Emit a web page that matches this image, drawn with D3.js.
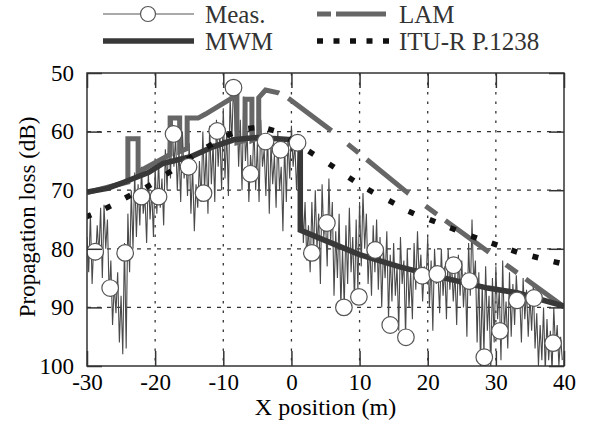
<!DOCTYPE html>
<html>
<head>
<meta charset="utf-8">
<script src="https://cdn.jsdelivr.net/npm/d3@7"></script>
<style>
    body { margin: 0; background: #fff; }
    #chart { width: 594px; height: 423px; }
    text { font-family: "Liberation Serif", "Times New Roman", serif; }
</style>
</head>
<body>
<div id="chart"></div>
<script>
/* DATA */
const xTicks = [-30, -20, -10, 0, 10, 20, 30, 40];
const yTicks = [50, 60, 70, 80, 90, 100];

// measured trace, one value every 0.25 m from -30 m
const traceStart = -30;
const traceStep = 0.25;
const traceY = [
    78, 84, 74, 86, 79, 82, 76, 81, 73, 85,
    72.5, 80, 75, 88, 82, 93, 86, 91, 84, 96,
    88, 98, 79, 97, 74, 84, 70, 80, 67, 78,
    69, 76, 66, 74, 71, 79, 67, 75, 70, 78,
    66, 74, 65, 73, 68, 76, 63, 70, 60, 68,
    58, 66, 61, 70, 63, 72, 60, 68, 64, 71,
    62, 74, 66, 77, 69, 73, 65, 72, 60, 70,
    63, 74, 59, 69, 62, 72, 58, 66, 60, 70,
    56, 68, 60, 71, 54, 62, 51.5, 60, 55, 66,
    58, 70, 54, 65, 60, 72, 64, 68, 59, 70,
    62, 72, 58, 66, 63, 71, 60, 74, 62, 69,
    64, 73, 60, 70, 66, 77, 62, 72, 61, 68,
    59, 66, 62, 70, 63, 74, 68, 79, 72, 82,
    76, 84, 72, 81, 70, 80, 74, 86, 69, 78,
    75, 83, 68, 79, 72, 88, 77, 85, 74, 90,
    80, 90, 76, 86, 73, 84, 78, 89, 75, 87,
    72, 83, 70.5, 80, 74, 86, 79, 88, 76, 84,
    75, 87, 78, 90, 80, 85, 77, 92, 81, 89,
    79, 88, 83, 94, 78, 86, 82, 95, 80, 90,
    84, 92, 79, 87, 77, 85, 81, 89, 83, 86,
    78, 90, 82, 94, 80, 86, 84, 91, 80, 88,
    83, 92, 80, 87, 82, 89, 84, 93, 81, 88,
    82, 90, 84, 95, 79, 88, 75, 86, 82, 96,
    84, 100, 86, 98, 83, 94, 88, 101, 85, 96,
    83, 92, 87, 99, 82, 94, 89, 97, 84, 95,
    86, 93, 84.5, 90, 88, 96, 85, 92, 87, 95,
    88, 94, 86, 97, 91, 100, 93, 99, 90, 101,
    92, 99, 94, 101, 90, 97, 93, 100, 95, 99
];

// circle markers on the measured trace
const measX = [-28.8, -26.6, -24.4, -22.0, -19.5, -17.3, -15.1, -12.9, -10.9, -8.5,
               -6.0, -3.8, -1.6, 0.9, 3.0, 5.2, 7.7, 9.9, 12.3, 14.5,
               16.8, 19.2, 21.4, 23.8, 26.1, 28.3, 30.6, 33.1, 35.6, 38.4];
const measY = [80.5, 86.7, 80.7, 71.1, 71.1, 60.4, 66.0, 70.5, 59.9, 52.5,
               67.2, 61.7, 63.1, 61.9, 80.7, 75.6, 90.0, 88.2, 80.2, 93.0,
               95.1, 84.6, 84.3, 82.8, 85.5, 98.5, 94.0, 88.8, 88.4, 96.1];

// LAM
const lamX = [-30, -24, -24, -22.5, -22.5, -17.8, -17.8, -16.4, -16.4, -15.3, -15.3, -13.7, -12.6, -8.5,
              -8, -8, -6.8, -6.8, -5.8, -5.8, -4.8, -4.8, -3.8, -1.9, -0.6, 5.7, 17.1, 29.1, 40];
const lamY = [70.4, 68.6, 61.2, 61.2, 66.9, 63.9, 57.7, 57.7, 63.4, 62.9, 57.7, 57.7, 57, 54.1,
              54, 61.9, 61.5, 54.5, 54.5, 61.5, 61, 54.2, 52.9, 53.4, 54.2, 59.7, 70.5, 80.7, 89.9];
const lamPeakIndex = 22;

// MWM
const mwmX = [-30, -27, -24.5, -21, -18.8, -14.8, -11.5, -8.5, -5, -2, 1.3, 1.3, 5, 10, 15.9, 22.5, 28.8, 33.1, 40];
const mwmY = [70.3, 69.7, 68.6, 67.0, 65.4, 64.3, 62.6, 61.4, 61.0, 61.2, 61.5, 76.8, 78.6, 81.0, 83.1, 85.0, 86.7, 87.5, 89.8];

// ITU-R P.1238
const ituX = [-29.8, -26.9, -24.0, -21.0, -18.0, -14.9, -12.0, -9.1, -5.9, -3.0, 0.0, 2.9,
              5.9, 8.8, 11.6, 14.7, 17.6, 20.7, 23.7, 26.8, 29.8, 32.7, 35.8, 38.9];
const ituY = [74.4, 72.9, 71.1, 69.3, 67.0, 64.5, 62.4, 60.5, 59.4, 59.7, 61.4, 63.6,
              65.8, 68.1, 70.1, 72.0, 73.8, 75.2, 76.6, 78.0, 79.2, 80.4, 81.4, 82.3];

/* SVG */
const width = 594;
const height = 423;
const margin = {top: 73, left: 87, right: 30, bottom: 57};

const svg = d3.select("#chart")
    .append("svg")
    .attr("width", width)
    .attr("height", height);

/* SCALES */
const xScale = d3.scaleLinear()
    .domain([-30, 40])
    .range([margin.left, width - margin.right]);

const yScale = d3.scaleLinear()
    .domain([50, 100])
    .range([margin.top, height - margin.bottom]);

const x0 = xScale(-30), x1 = xScale(40), y0 = yScale(50), y1 = yScale(100);

/* GRID */
svg.append("g").selectAll("line")
    .data(xTicks.slice(1, -1))
    .enter()
    .append("line")
    .attr("x1", d => xScale(d)).attr("x2", d => xScale(d))
    .attr("y1", y0).attr("y2", y1)
    .attr("stroke", "#333").attr("stroke-width", 1.3)
    .attr("stroke-dasharray", "2.5,7");

svg.append("g").selectAll("line")
    .data(yTicks.slice(1, -1))
    .enter()
    .append("line")
    .attr("x1", x0).attr("x2", x1)
    .attr("y1", d => yScale(d)).attr("y2", d => yScale(d))
    .attr("stroke", "#333").attr("stroke-width", 1.3)
    .attr("stroke-dasharray", "4,6");

/* CLIP */
svg.append("clipPath").attr("id", "plot")
    .append("rect")
    .attr("x", x0).attr("y", y0)
    .attr("width", x1 - x0).attr("height", y1 - y0);

const plot = svg.append("g").attr("clip-path", "url(#plot)");

/* MEASURED TRACE */
const trace = traceY.map((v, i) => ({x: traceStart + i * traceStep, y: v}));
const line = d3.line().x(d => xScale(d.x)).y(d => yScale(d.y));

plot.append("path")
    .datum(trace)
    .attr("d", line)
    .attr("fill", "none")
    .attr("stroke", "#4a4a4a")
    .attr("stroke-width", 1.1);

/* LAM */
const lamData = lamX.map((v, i) => ({x: v, y: lamY[i]}));
const lamPath = plot.append("path")
    .datum(lamData)
    .attr("d", line)
    .attr("fill", "none")
    .attr("stroke", "#666")
    .attr("stroke-width", 5);

// solid up to the peak, dashed (short / long) after it
const tmp = svg.append("path").attr("d", line(lamData.slice(0, lamPeakIndex + 1)));
const peakLen = tmp.node().getTotalLength();
tmp.remove();
const totalLen = lamPath.node().getTotalLength();
const dashes = [peakLen + 14, 10.5, 54, 21];
let covered = peakLen + 99.5;
while (covered < totalLen + 100) {
    dashes.push(14, 10.5, 54, 21);
    covered += 99.5;
}
lamPath.attr("stroke-dasharray", dashes.join(","));

/* MWM */
plot.append("path")
    .datum(mwmX.map((v, i) => ({x: v, y: mwmY[i]})))
    .attr("d", line)
    .attr("fill", "none")
    .attr("stroke", "#383838")
    .attr("stroke-width", 5.5)
    .attr("stroke-linejoin", "miter");

/* ITU-R P.1238 */
const itu = ituX.map((v, i) => {
    const a = i > 0 ? i - 1 : i;
    const b = i < ituX.length - 1 ? i + 1 : i;
    const ang = Math.atan2(yScale(ituY[b]) - yScale(ituY[a]), xScale(ituX[b]) - xScale(ituX[a]));
    return {x: v, y: ituY[i], ang: ang};
});

plot.append("g").selectAll("line")
    .data(itu)
    .enter()
    .append("line")
    .attr("x1", d => xScale(d.x) - 3 * Math.cos(d.ang))
    .attr("y1", d => yScale(d.y) - 3 * Math.sin(d.ang))
    .attr("x2", d => xScale(d.x) + 3 * Math.cos(d.ang))
    .attr("y2", d => yScale(d.y) + 3 * Math.sin(d.ang))
    .attr("stroke", "#111")
    .attr("stroke-width", 5.5);

/* MARKERS */
plot.append("g").selectAll("circle")
    .data(measX.map((v, i) => ({x: v, y: measY[i]})))
    .enter()
    .append("circle")
    .attr("cx", d => xScale(d.x))
    .attr("cy", d => yScale(d.y))
    .attr("r", 8.3)
    .attr("fill", "#fff")
    .attr("stroke", "#555")
    .attr("stroke-width", 1.2);

/* AXES */
const tickLen = 15;
const xAxis = svg.append("g")
    .attr("transform", `translate(0,${y1})`)
    .call(d3.axisBottom(xScale).tickValues(xTicks).tickSize(-tickLen).tickPadding(8)
        .tickFormat(d => String(d)));

const xAxisTop = svg.append("g")
    .attr("transform", `translate(0,${y0})`)
    .call(d3.axisTop(xScale).tickValues(xTicks).tickSize(-tickLen).tickFormat(""));

const yAxis = svg.append("g")
    .attr("transform", `translate(${x0},0)`)
    .call(d3.axisLeft(yScale).tickValues(yTicks).tickSize(-tickLen).tickPadding(13)
        .tickFormat(d => String(d)));

const yAxisRight = svg.append("g")
    .attr("transform", `translate(${x1},0)`)
    .call(d3.axisRight(yScale).tickValues(yTicks).tickSize(-tickLen).tickFormat(""));

svg.selectAll(".domain").remove();
svg.selectAll(".tick line").attr("stroke", "#333").attr("stroke-width", 1.5);
svg.selectAll(".tick text")
    .attr("font-family", "Liberation Serif, serif")
    .attr("font-size", 23)
    .attr("fill", "#000");

svg.append("rect")
    .attr("x", x0).attr("y", y0)
    .attr("width", x1 - x0).attr("height", y1 - y0)
    .attr("fill", "none")
    .attr("stroke", "#333")
    .attr("stroke-width", 1.5);

/* AXIS LABELS */
svg.append("text")
    .attr("x", (x0 + x1) / 2)
    .attr("y", 415)
    .attr("text-anchor", "middle")
    .attr("font-size", 24)
    .text("X position (m)");

svg.append("text")
    .attr("transform", "rotate(-90)")
    .attr("x", -217)
    .attr("y", 35)
    .attr("text-anchor", "middle")
    .attr("font-size", 23)
    .text("Propagation loss (dB)");

/* LEGEND */
const legend = svg.append("g");
const row1 = 14, row2 = 41;

legend.append("line")
    .attr("x1", 103).attr("x2", 194).attr("y1", row1).attr("y2", row1)
    .attr("stroke", "#555").attr("stroke-width", 1.2);
legend.append("circle")
    .attr("cx", 148).attr("cy", row1).attr("r", 7.5)
    .attr("fill", "#fff").attr("stroke", "#555").attr("stroke-width", 1.2);

legend.append("line")
    .attr("x1", 317).attr("x2", 386).attr("y1", row1).attr("y2", row1)
    .attr("stroke", "#666").attr("stroke-width", 5)
    .attr("stroke-dasharray", "14,5,50");

legend.append("line")
    .attr("x1", 103).attr("x2", 194).attr("y1", row2).attr("y2", row2)
    .attr("stroke", "#383838").attr("stroke-width", 5.5);

legend.append("line")
    .attr("x1", 317).attr("x2", 389).attr("y1", row2).attr("y2", row2)
    .attr("stroke", "#111").attr("stroke-width", 5.5)
    .attr("stroke-dasharray", "6,10.5");

const labels = [
    {t: "Meas.", x: 205, y: row1},
    {t: "LAM", x: 399, y: row1},
    {t: "MWM", x: 205, y: row2},
    {t: "ITU-R P.1238", x: 399, y: row2}
];
legend.selectAll("text")
    .data(labels)
    .enter()
    .append("text")
    .attr("x", d => d.x)
    .attr("y", d => d.y)
    .attr("dy", "0.35em")
    .attr("font-size", 25)
    .attr("fill", "#333")
    .text(d => d.t);
</script>
</body>
</html>
